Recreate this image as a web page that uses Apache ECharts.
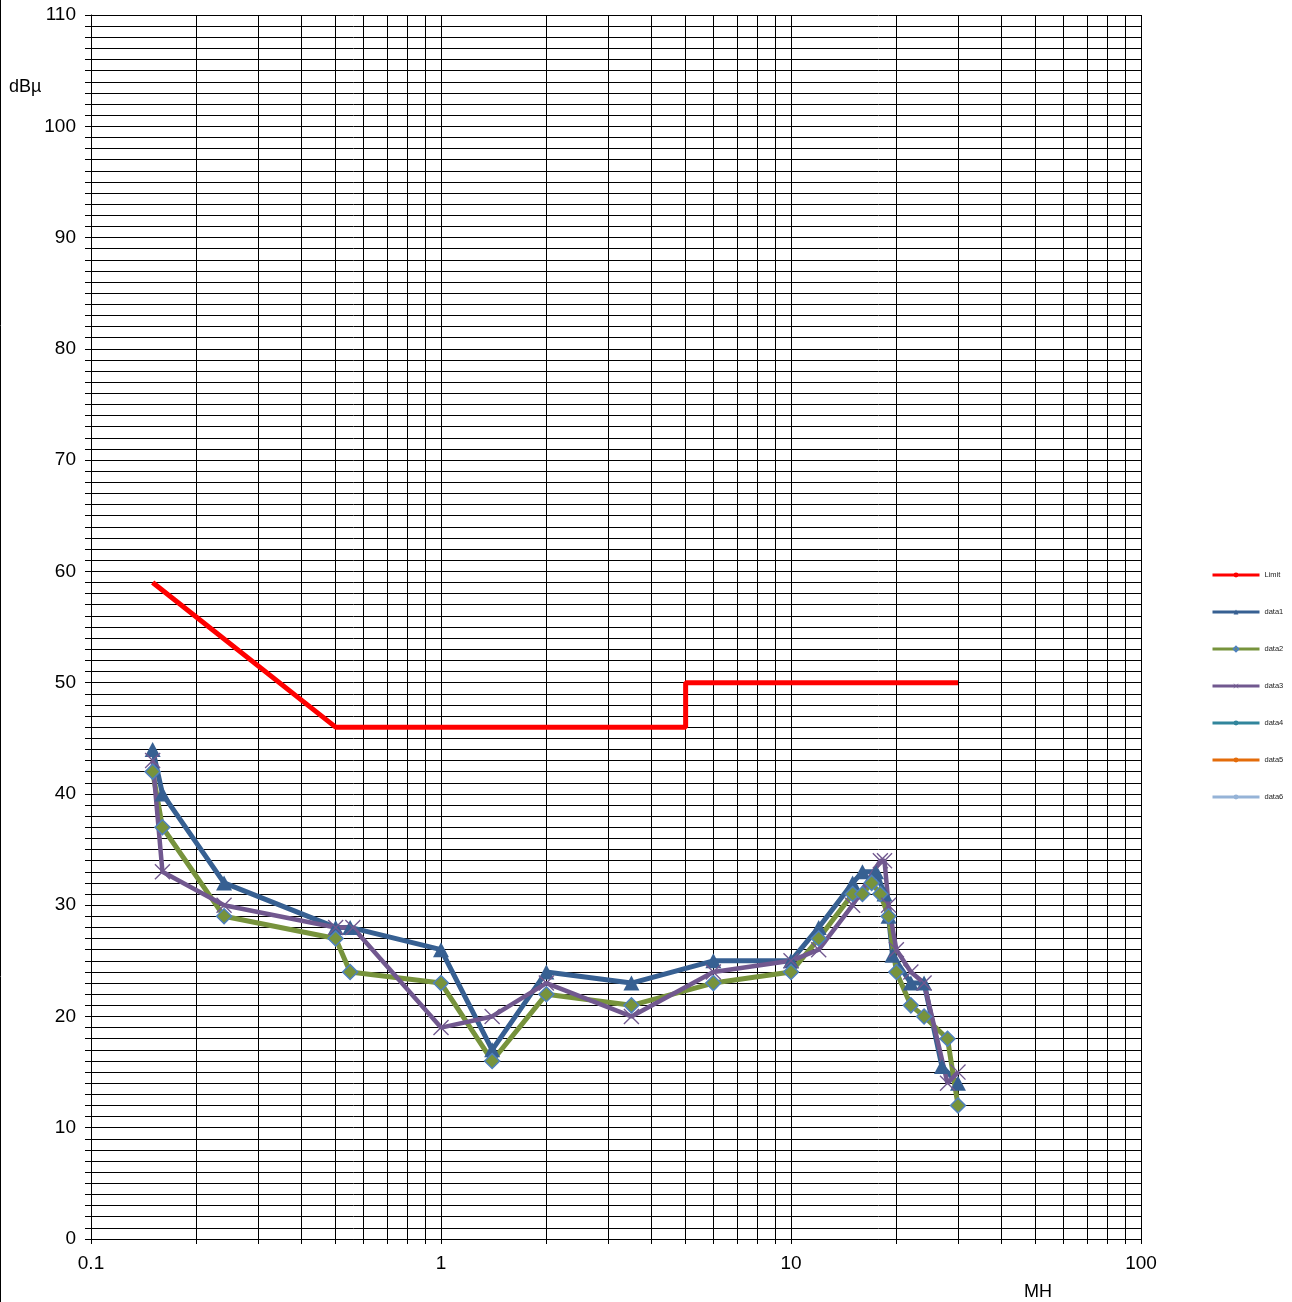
<!DOCTYPE html>
<html>
<head>
<meta charset="utf-8">
<script src="https://cdn.jsdelivr.net/npm/echarts@6/dist/echarts.min.js"></script>
<style>
html,body{margin:0;padding:0;background:#fff;}
#chart{width:1292px;height:1302px;}
</style>
</head>
<body>
<div id="chart"></div>
<script>
// ---- Data (frequency in MHz, level in dBµ) ----
const limitFreq = [0.15, 0.5, 5, 5, 30];
const limitVals = [59, 46, 46, 50, 50];

const data1Freq = [0.15, 0.16, 0.24, 0.5, 0.55, 1, 1.4, 2, 3.5, 6, 10, 12, 15, 16, 17.5, 18.5, 19, 19.5, 22, 24, 27, 30];
const data1Vals = [44, 40, 32, 28, 28, 26, 17, 24, 23, 25, 25, 28, 32, 33, 33, 31, 29, 25.5, 23, 23, 15.5, 14];

const data2Freq = [0.15, 0.16, 0.24, 0.5, 0.55, 1, 1.4, 2, 3.5, 6, 10, 12, 15, 16, 17, 18, 19, 20, 22, 24, 28, 30];
const data2Vals = [42, 37, 29, 27, 24, 23, 16, 22, 21, 23, 24, 27, 31, 31, 32, 31, 29, 24, 21, 20, 18, 12];

const data3Freq = [0.15, 0.16, 0.24, 0.5, 0.56, 1, 1.4, 2, 3.5, 6, 10, 12, 15, 18, 18.5, 19, 20, 22, 24, 28, 30];
const data3Vals = [43, 33, 30, 28, 28, 19, 20, 23, 20, 24, 25, 26, 30, 34, 34, 30, 26, 24, 23, 14, 15];

const seriesNames = ['Limit', 'data1', 'data2', 'data3', 'data4', 'data5', 'data6'];

const xTickValues = [0.1,0.2,0.3,0.4,0.5,0.6,0.7,0.8,0.9,1,2,3,4,5,6,7,8,9,10,20,30,40,50,60,70,80,90,100];
const xLabelValues = [0.1, 1, 10, 100];

const pairs = (f, v) => f.map((x, i) => [x, v[i]]);

const colors = {
  limit: '#ff0000',
  d1: '#376092',
  d2: '#77933c',
  d3: '#71588f',
  d4: '#31859c',
  d5: '#e46c0a',
  d6: '#95b3d7',
  diamondBorder: '#4f81bd'
};

const xPath = 'path://M0,6 L6,0 L50,44 L94,0 L100,6 L56,50 L100,94 L94,100 L50,56 L6,100 L0,94 L44,50 Z';

const chart = echarts.init(document.getElementById('chart'), null, {renderer: 'canvas'});

const font = 'Liberation Sans, Arial, sans-serif';

const option = {
  backgroundColor: '#ffffff',
  animation: false,
  grid: {left: 91, top: 15, right: 151, bottom: 63, containLabel: false},
  legend: {
    orient: 'vertical',
    left: 1206,
    top: 566,
    itemWidth: 47,
    itemHeight: 6,
    itemGap: 29,
    itemTextGap: 4,
    data: seriesNames,
    textStyle: {fontSize: 7.5, color: '#222', fontFamily: font},
    lineStyle: {width: 3}
  },
  xAxis: {
    type: 'log',
    logBase: 10,
    min: 0.1,
    max: 100,
    axisLine: {show: true, lineStyle: {color: '#000', width: 1}},
    axisTick: {show: true, length: 5, inside: false, lineStyle: {color: '#000'}, customValues: xTickValues},
    axisLabel: {show: true, customValues: xLabelValues, fontSize: 19, color: '#000', fontFamily: font, margin: 15,
      formatter: v => String(+v.toPrecision(6))},
    splitLine: {show: true, lineStyle: {color: '#000', width: 1}},
    minorTick: {show: false},
    minorSplitLine: {show: false}
  },
  yAxis: {
    type: 'value',
    min: 0,
    max: 110,
    interval: 10,
    axisLine: {show: true, lineStyle: {color: '#000', width: 1}},
    axisTick: {show: true, length: 6, lineStyle: {color: '#000'}},
    minorTick: {show: true, splitNumber: 10, length: 6, lineStyle: {color: '#000'}},
    axisLabel: {fontSize: 19, color: '#000', fontFamily: font, margin: 15},
    splitLine: {show: true, lineStyle: {color: '#000', width: 1}},
    minorSplitLine: {show: true, lineStyle: {color: '#000', width: 1}}
  },
  graphic: [
    {type: 'text', left: 9, top: 78, style: {text: 'dBµ', fill: '#000', font: '18px Liberation Sans, Arial, sans-serif'}},
    {type: 'text', left: 1024, top: 1283, style: {text: 'MH', fill: '#000', font: '18px Liberation Sans, Arial, sans-serif'}},
    {type: 'line', shape: {x1: 0.5, y1: 0, x2: 0.5, y2: 1302}, style: {stroke: '#000', lineWidth: 1}}
  ],
  series: [
    {
      name: 'Limit', type: 'line', data: pairs(limitFreq, limitVals),
      showSymbol: false, symbol: 'none',
      lineStyle: {color: colors.limit, width: 5}, itemStyle: {color: colors.limit}
    },
    {
      name: 'data1', type: 'line', data: pairs(data1Freq, data1Vals),
      symbol: 'triangle', symbolSize: [16, 15],
      lineStyle: {color: colors.d1, width: 5}, itemStyle: {color: colors.d1}
    },
    {
      name: 'data2', type: 'line', data: pairs(data2Freq, data2Vals),
      symbol: 'diamond', symbolSize: 15,
      lineStyle: {color: colors.d2, width: 5},
      itemStyle: {color: colors.d2, borderColor: colors.diamondBorder, borderWidth: 1.5}
    },
    {
      name: 'data3', type: 'line', data: pairs(data3Freq, data3Vals),
      symbol: xPath, symbolSize: 16,
      lineStyle: {color: colors.d3, width: 4.5}, itemStyle: {color: colors.d3}
    },
    {name: 'data4', type: 'line', data: [], symbol: 'circle', lineStyle: {color: colors.d4, width: 3}, itemStyle: {color: colors.d4}},
    {name: 'data5', type: 'line', data: [], symbol: 'circle', lineStyle: {color: colors.d5, width: 3}, itemStyle: {color: colors.d5}},
    {name: 'data6', type: 'line', data: [], symbol: 'circle', lineStyle: {color: colors.d6, width: 3}, itemStyle: {color: colors.d6}}
  ]
};

chart.setOption(option);
</script>
</body>
</html>
